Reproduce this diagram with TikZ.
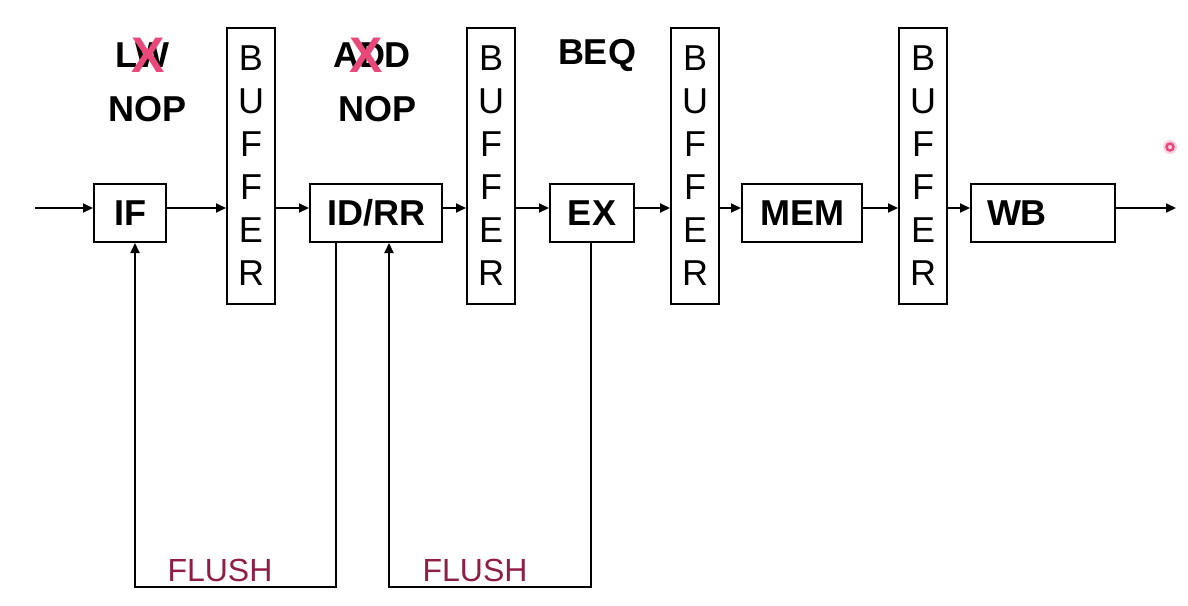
\documentclass[tikz,border=0pt]{standalone}
\usepackage{fontspec}
\setmainfont{Liberation Sans}
\usetikzlibrary{arrows.meta,positioning}
\definecolor{flushred}{HTML}{8E1E45}
\definecolor{crosspink}{HTML}{E8487A}

\begin{document}
\begin{tikzpicture}[
		x=0.5pt, y=-0.5pt,
		line width=1pt,
		stage/.style={draw, font=\fontsize{18}{20}\selectfont\bfseries, minimum height=29pt, inner sep=0pt},
		buffer/.style={draw, align=center, font=\fontsize{18}{21.5}\selectfont, minimum width=24pt, minimum height=138pt, inner sep=0pt},
		instr/.style={font=\fontsize{18}{20}\selectfont\bfseries},
		cross/.style={text=crosspink, font=\fontsize{25}{25}\selectfont\bfseries},
		flush/.style={text=flushred, font=\fontsize{16}{18}\selectfont},
		arrow/.style={-{Triangle[length=5pt,width=4.5pt]}},
	]
		\useasboundingbox (0,0) rectangle (1188,605);

		% pipeline stages
		\node (if)  [stage, minimum width=36pt] at (130,213) {IF};
		\node (buf1) [buffer] at (251,166) {B\\U\\F\\F\\E\\R};
		\node (id)  [stage, minimum width=66pt] at (376,213) {ID/RR};
		\node (buf2) [buffer] at (491,166) {B\\U\\F\\F\\E\\R};
		\node (ex)  [stage, minimum width=42pt] at (592,213) {EX};
		\node (buf3) [buffer] at (695,166) {B\\U\\F\\F\\E\\R};
		\node (mem) [stage, minimum width=60pt, text width=56pt, align=center] at (802,213) {MEM};
		\node (buf4) [buffer] at (923,166) {B\\U\\F\\F\\E\\R};
		\node (wb)  [stage, minimum width=72pt, text width=56pt] at (1043,213) {WB};

		\coordinate (in) at (35,208);
		\coordinate (out) at (1176,208);

		% instructions in flight
		\node (lw)   [instr] at (142,55) {LW};
		\node (lwx)  [cross] at (148,55) {X};
		\node (nop1) [instr] at (148,109) {NOP};
		\node (add)  [instr] at (372,55) {ADD};
		\node (addx) [cross] at (366,55) {X};
		\node (nop2) [instr] at (378,109) {NOP};
		\node (beq)  [instr] at (597,55) {BEQ};

		% forward path
		\draw[arrow] (in) -- (in -| if.west);
		\draw[arrow] (in -| if.east) -- (in -| buf1.west);
		\draw[arrow] (in -| buf1.east) -- (in -| id.west);
		\draw[arrow] (in -| id.east) -- (in -| buf2.west);
		\draw[arrow] (in -| buf2.east) -- (in -| ex.west);
		\draw[arrow] (in -| ex.east) -- (in -| buf3.west);
		\draw[arrow] (in -| buf3.east) -- (in -| mem.west);
		\draw[arrow] (in -| mem.east) -- (in -| buf4.west);
		\draw[arrow] (in -| buf4.east) -- (in -| wb.west);
		\draw[arrow] (in -| wb.east) -- (out);

		% flush paths
		\coordinate (f1) at (336,587);
		\coordinate (f2) at (591,587);
		\draw[arrow] (f1 |- id.south) -- (f1) -- (f1 -| 135,0) -- (if.south -| 135,0);
		\draw[arrow] (f2 |- ex.south) -- (f2) -- (f2 -| 389,0) -- (id.south -| 389,0);
		\node (flush1) [flush] at (220,570) {FLUSH};
		\node (flush2) [flush] at (475,570) {FLUSH};

		% pointer
		\fill[crosspink!25] (1170,147) circle (7);
		\draw[crosspink, line width=1.2pt] (1170,147) circle (3.5);
	\end{tikzpicture}
\end{document}
